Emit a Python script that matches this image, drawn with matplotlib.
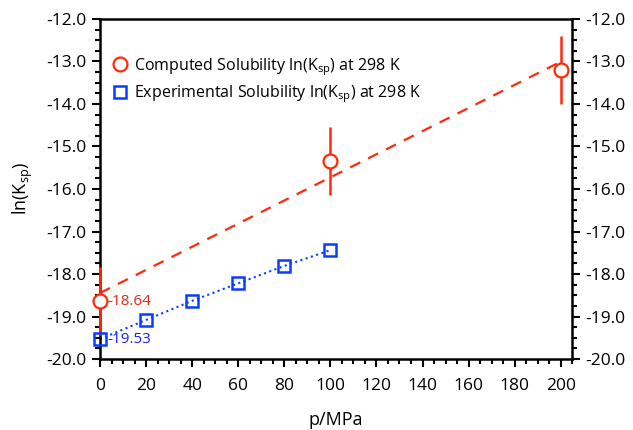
import numpy as np
import matplotlib.pyplot as plt
from matplotlib.ticker import MultipleLocator, FormatStrFormatter

plt.rcParams['font.family'] = ['Open Sans', 'DejaVu Sans']
plt.rcParams['mathtext.fontset'] = 'custom'
plt.rcParams['mathtext.rm'] = 'Open Sans'
plt.rcParams['mathtext.it'] = 'Open Sans'

# computed solubility (with error bars)
p_comp = [0, 100, 200]
lnk_comp = [-18.64, -15.34, -13.20]
err_comp = [0.8, 0.8, 0.8]

# experimental solubility
p_exp = [0, 20, 40, 60, 80, 100]
lnk_exp = [-19.53, -19.08, -18.63, -18.22, -17.81, -17.44]

RED = '#ff2a0a'
BLUE = '#0a3cff'

fig = plt.figure(figsize=(6.33, 4.30), dpi=100)
ax = fig.add_axes([0.158, 0.165, 0.746, 0.791])

# linear fit for computed values
slope, icept = np.polyfit(p_comp, lnk_comp, 1)
xf = np.array([p_comp[0], p_comp[-1]])
ax.plot(xf, slope * xf + icept, ls=(0, (5, 4)), color=RED, lw=1.6, zorder=2)

ax.errorbar(p_comp, lnk_comp, yerr=err_comp, fmt='none', ecolor=RED,
            elinewidth=1.8, capsize=0, zorder=3, clip_on=False)
ax.plot(p_comp, lnk_comp, 'o', mfc='white', mec=RED, mew=1.6, ms=10,
        label='Computed Solubility ln(K$_{\\mathregular{sp}}$) at 298 K',
        zorder=4, clip_on=False)

ax.plot(p_exp, lnk_exp, ':', color=BLUE, lw=1.5, zorder=2)
ax.plot(p_exp, lnk_exp, 's', mfc='none', mec=BLUE, mew=1.8, ms=8.5,
        label='Experimental Solubility ln(K$_{\\mathregular{sp}}$) at 298 K',
        zorder=4, clip_on=False)

ax.annotate(f'{lnk_comp[0]:.2f}', xy=(p_comp[0], lnk_comp[0]), xytext=(5, 0),
            textcoords='offset points', va='center', ha='left',
            color='#e8261c', fontsize=11)
ax.annotate(f'{lnk_exp[0]:.2f}', xy=(p_exp[0], lnk_exp[0]), xytext=(5, 0),
            textcoords='offset points', va='center', ha='left',
            color='#1f1fe8', fontsize=11)

ax.set_xlim(0, 205)
ax.set_ylim(-20, -12)
ax.xaxis.set_major_locator(MultipleLocator(20))
ax.xaxis.set_minor_locator(MultipleLocator(5))
ax.yaxis.set_major_locator(MultipleLocator(1))
ax.yaxis.set_minor_locator(MultipleLocator(0.25))
ax.yaxis.set_major_formatter(FormatStrFormatter('%.1f'))

ax.tick_params(which='both', direction='out', right=True, labelright=True,
               top=False, width=1.5, labelsize=12.5)
ax.tick_params(which='major', length=6)
ax.tick_params(which='minor', length=3.5)
ax.tick_params(axis='x', pad=8)
for s in ax.spines.values():
    s.set_linewidth(1.8)

ax.set_xlabel('p/MPa', fontsize=13, labelpad=12)
ax.set_ylabel('ln(K$_{\\mathregular{sp}}$)', fontsize=13, labelpad=8)

ax.legend(loc='upper left', bbox_to_anchor=(0.0, 0.925), frameon=False,
          fontsize=11.5, handletextpad=0.3, handlelength=1.1,
          labelspacing=0.35, borderaxespad=0.3)

fig.savefig('out.png', dpi=100)
